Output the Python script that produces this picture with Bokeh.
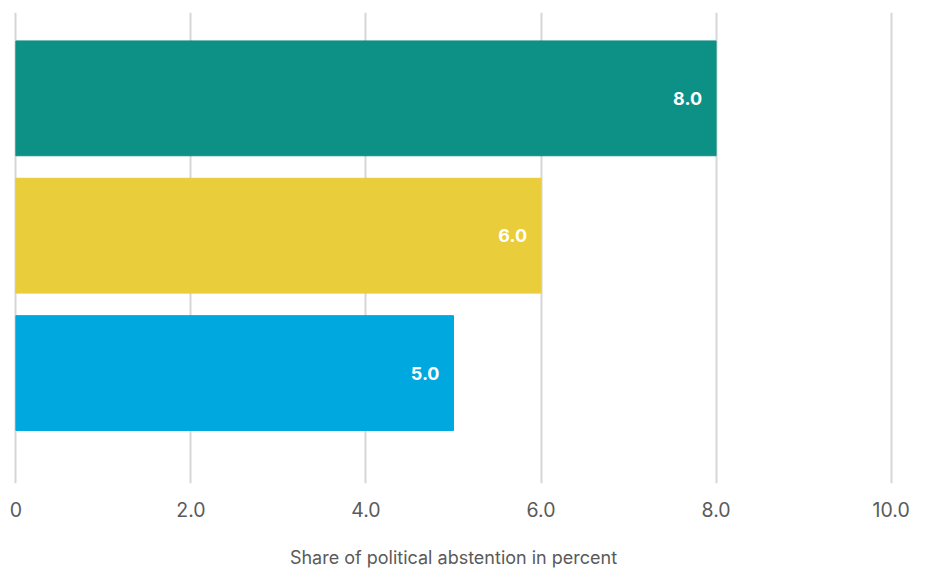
from bokeh.plotting import figure
from bokeh.models import Range1d, ColumnDataSource, FixedTicker
from bokeh.core.properties import value
from bokeh.embed import file_html
from bokeh.resources import INLINE

categories = ["Group 1", "Group 2", "Group 3"]
values = [8.0, 6.0, 5.0]
colors = ["#0d9085", "#e9cd3a", "#00a8e0"]
tick_values = [0, 2, 4, 6, 8, 10]
tick_labels = ["0", "2.0", "4.0", "6.0", "8.0", "10.0"]
axis_title = "Share of political abstention in percent"

pos = list(range(len(categories)))
src = ColumnDataSource(dict(
    y=pos, v=values, c=colors, lab=[f"{v:.1f}" for v in values]
))

p = figure(frame_width=884, frame_height=471, output_backend="svg", toolbar_location=None,
           x_range=Range1d(-0.05, 10.05), y_range=Range1d(2.804, -0.625),
           min_border_left=11, min_border_right=24, min_border_top=12,
           min_border_bottom=4)
p.outline_line_color = None
p.background_fill_color = "white"

p.hbar(y="y", right="v", left=0, height=0.836, color="c", source=src)
p.text(x="v", y="y", text="lab", source=src, x_offset=-14,
       text_align="right", text_baseline="middle", text_color="white",
       text_font=value("Inter"), text_font_style="bold", text_font_size="18px")

p.yaxis.visible = False
p.ygrid.visible = False
xa = p.xaxis[0]
xa.ticker = FixedTicker(ticks=tick_values)
xa.major_label_overrides = {t: l for t, l in zip(tick_values, tick_labels)}
xa.axis_line_color = None
xa.major_tick_line_color = None
xa.minor_tick_line_color = None
xa.major_tick_out = 0
xa.major_tick_in = 0
xa.major_label_standoff = 18
xa.major_label_text_font = "Inter"
xa.major_label_text_font_size = "19.5px"
xa.major_label_text_color = "#5a5a5a"
xa.axis_label = axis_title
xa.axis_label_text_font = "Inter"
xa.axis_label_text_font_size = "18px"
xa.axis_label_text_font_style = "normal"
xa.axis_label_text_color = "#5a5a5a"
xa.axis_label_standoff = 27
p.xgrid.ticker = FixedTicker(ticks=tick_values)
p.xgrid.grid_line_color = "#d6d6d6"
p.xgrid.grid_line_width = 2

open("out.html", "w").write(file_html(p, INLINE))
